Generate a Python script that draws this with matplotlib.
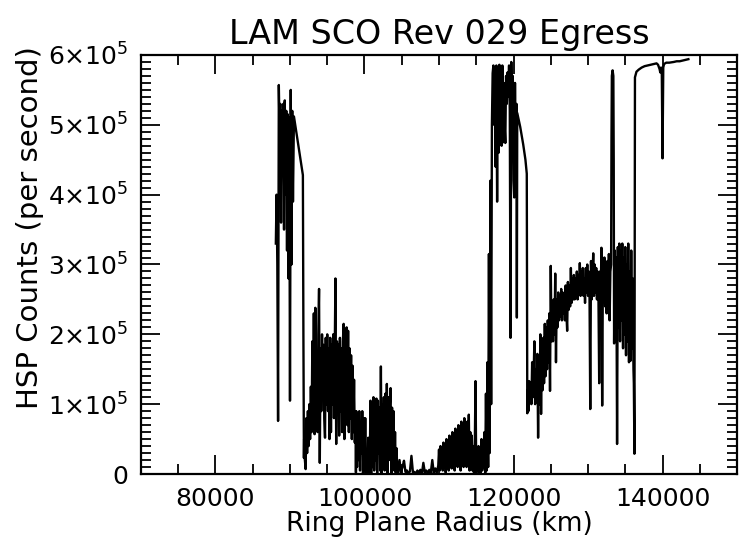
import numpy as np
import matplotlib
matplotlib.use('Agg')
import matplotlib.pyplot as plt
from matplotlib.ticker import MultipleLocator, FuncFormatter

plt.rcParams['font.family'] = ['DejaVu Sans']

# counts are stored in units of 1e5 counts per second
SCALE = 1e5

# inner C ring plateau
a_r = [88100, 88200, 88300, 88400, 88500, 88600, 88700, 88800, 88900, 89000,
       89100, 89200, 89300, 89400, 89500, 89600, 89700, 89800, 89900, 90000,
       90100, 90200, 90300, 90400, 90530, 91730, 91800, 91870]
a_c = [3.3, 4.0, 3.0, 0.76, 5.57, 4.9, 5.3, 3.6, 5.2, 4.4,
       5.3, 3.5, 5.35, 4.0, 5.2, 3.2, 5.15, 2.8, 5.1, 1.05,
       5.5, 3.0, 5.2, 3.9, 5.12, 4.28, 2.0, 0.23]

# C ring, 92000 - 98800 km
b_r = [91900, 92000, 92100, 92200, 92300, 92400, 92500, 92600, 92700, 92800,
       92900, 93000, 93100, 93200, 93300, 93400, 93500, 93600, 93700, 93800,
       93900, 94000, 94100, 94200, 94300, 94400, 94500, 94600, 94700, 94800,
       94900, 95000, 95100, 95200, 95300, 95400, 95500, 95600, 95700, 95800,
       95900, 96000, 96100, 96200, 96300, 96400, 96500, 96600, 96700, 96800,
       96900, 97000, 97100, 97200, 97300, 97400, 97500, 97600, 97700, 97800,
       97900, 98000, 98100, 98200, 98300, 98400, 98500, 98600, 98700, 98800]
b_c = [0.5, 0.2, 0.07, 0.8, 0.3, 0.9, 0.4, 1.0, 0.5, 1.25,
       0.6, 1.9, 0.8, 2.3, 0.57, 2.38, 1.0, 1.7, 0.6, 2.0,
       2.65, 0.16, 1.8, 0.9, 2.0, 1.1, 1.85, 0.8, 0.52, 1.95,
       1.0, 2.0, 0.9, 1.8, 0.5, 1.95, 0.6, 1.85, 1.0, 2.0,
       0.8, 1.7, 2.8, 0.43, 1.9, 0.9, 1.85, 0.55, 1.95, 0.9,
       1.8, 0.6, 1.9, 2.15, 0.5, 1.9, 0.8, 2.1, 0.7, 2.05,
       0.6, 1.8, 0.8, 1.7, 0.5, 1.55, 0.6, 1.35, 0.45, 0.9]

# C ring, 98850 - 104400 km
c_r = [98850, 98900, 99000, 99100, 99200, 99300, 99400, 99500, 99600, 99700,
       99800, 99900, 100000, 100100, 100200, 100300, 100400, 100500, 100600, 100700,
       100800, 100900, 101000, 101100, 101200, 101300, 101400, 101500, 101600, 101700,
       101800, 101900, 102000, 102100, 102200, 102300, 102400, 102500, 102600, 102700,
       102800, 102900, 103000, 103100, 103200, 103300, 103400, 103500, 103600, 103700,
       103800, 103900, 104000, 104100, 104200, 104300, 104400]
c_c = [0.02, 0.9, 0.1, 0.85, 0.2, 0.9, 0.05, 0.7, 0.3, 0.9,
       0.0, 0.8, 0.05, 0.8, 0.0, 0.2, 0.0, 0.52, 0.0, 0.05,
       1.05, 0.0, 1.0, 0.1, 1.1, 0.05, 0.95, 0.2, 1.08, 0.0,
       1.05, 0.3, 0.95, 0.05, 1.54, 0.0, 1.0, 0.3, 1.1, 0.05,
       1.15, 0.25, 1.29, 0.0, 1.1, 0.2, 1.0, 1.23, 0.0, 0.95,
       0.15, 0.9, 0.05, 0.6, 0.0, 0.37, 0.05]

# opaque part of the C ring
d_r = [104500, 104700, 104900, 105100, 105300, 105500, 105700, 105900, 106100, 106300,
       106500, 106700, 106900, 107100, 107300, 107500, 107700, 107900, 108100, 108300,
       108500, 108700, 108900, 109100, 109300, 109500, 109700, 109900]
d_c = [0.0, 0.2, 0.02, 0.1, 0.19, 0.03, 0.05, 0.0, 0.04, 0.26,
       0.02, 0.03, 0.0, 0.05, 0.02, 0.06, 0.0, 0.16, 0.02, 0.05,
       0.01, 0.06, 0.02, 0.2, 0.01, 0.08, 0.02, 0.12]

# 110000 - 117100 km, up to the edge
e_r = [110000, 110100, 110200, 110300, 110400, 110500, 110600, 110700, 110800, 110900,
       111000, 111100, 111200, 111300, 111400, 111500, 111600, 111700, 111800, 111900,
       112000, 112100, 112200, 112300, 112400, 112500, 112600, 112700, 112800, 112900,
       113000, 113100, 113200, 113300, 113400, 113500, 113600, 113700, 113800, 113900,
       114000, 114100, 114200, 114300, 114400, 114500, 114600, 114700, 114800, 114900,
       115000, 115100, 115200, 115300, 115400, 115500, 115600, 115700, 115800, 115900,
       116000, 116100, 116200, 116300, 116400, 116500, 116600, 116700, 116800, 116900,
       117000, 117100]
e_c = [0.35, 0.05, 0.4, 0.1, 0.3, 0.05, 0.45, 0.1, 0.35, 0.02,
       0.5, 0.1, 0.4, 0.05, 0.55, 0.1, 0.45, 0.08, 0.6, 0.1,
       0.5, 0.05, 0.65, 0.15, 0.55, 0.1, 0.7, 0.15, 0.6, 0.05,
       0.75, 0.2, 0.65, 0.1, 0.8, 0.15, 0.7, 0.1, 0.75, 0.2,
       0.85, 0.05, 0.6, 0.15, 0.55, 0.05, 0.4, 0.0, 0.35, 1.33,
       0.0, 0.3, 0.05, 0.4, 0.0, 0.25, 0.02, 0.5, 0.05, 0.45,
       0.1, 0.6, 0.0, 1.15, 0.05, 1.6, 0.1, 3.15, 0.3, 4.2,
       1.0, 5.0]

# bright region 117200 - 121850 km
f_r = [117200, 117300, 117400, 117500, 117600, 117700, 117800, 117900, 118000, 118100,
       118200, 118300, 118400, 118500, 118600, 118700, 118800, 118900, 119000, 119100,
       119200, 119300, 119400, 119500, 119600, 119700, 119800, 119900, 120000, 120100,
       120200, 120300, 120400, 120450, 120500, 120900, 121300, 121600, 121780, 121850]
f_c = [5.74, 5.85, 5.0, 5.82, 4.4, 5.85, 3.9, 5.8, 4.6, 5.86,
       4.9, 5.8, 4.7, 5.85, 4.75, 5.6, 5.0, 4.74, 5.7, 5.3,
       5.75, 5.4, 5.85, 5.2, 1.95, 5.9, 4.8, 5.7, 4.2, 3.96,
       5.6, 4.5, 5.3, 2.24, 5.17, 4.97, 4.72, 4.5, 4.3, 0.87]

# A ring, 121900 - 133100 km
g_r = [121900, 122000, 122100, 122200, 122300, 122400, 122500, 122600, 122700, 122800,
       122900, 123000, 123100, 123200, 123300, 123400, 123500, 123600, 123700, 123800,
       123900, 124000, 124100, 124200, 124300, 124400, 124500, 124600, 124700, 124800,
       124900, 125000, 125100, 125200, 125300, 125400, 125500, 125600, 125700, 125800,
       125900, 126000, 126100, 126200, 126300, 126400, 126500, 126600, 126700, 126800,
       126900, 127000, 127100, 127200, 127300, 127400, 127500, 127600, 127700, 127800,
       127900, 128000, 128100, 128200, 128300, 128400, 128500, 128600, 128700, 128800,
       128900, 129000, 129100, 129200, 129300, 129400, 129500, 129600, 129700, 129800,
       129900, 130000, 130100, 130200, 130300, 130400, 130500, 130600, 130700, 130800,
       130900, 131000, 131100, 131200, 131300, 131400, 131500, 131600, 131700, 131800,
       131900, 132000, 132100, 132200, 132300, 132400, 132500, 132600, 132700, 132800,
       132900, 133000, 133100]
g_c = [1.2, 0.9, 1.33, 1.05, 1.25, 1.0, 1.6, 1.1, 1.4, 1.9,
       1.0, 1.5, 1.05, 1.72, 0.52, 1.6, 1.0, 2.0, 0.86, 1.8,
       1.2, 1.95, 1.3, 2.15, 1.4, 2.1, 1.5, 2.2, 1.6, 2.3,
       1.19, 2.98, 1.9, 2.4, 1.9, 2.5, 2.0, 2.87, 1.6, 2.5,
       2.1, 2.6, 2.2, 2.55, 2.25, 2.65, 2.2, 2.6, 2.3, 2.55,
       2.2, 2.7, 2.3, 2.05, 2.75, 2.35, 2.7, 2.4, 2.95, 2.45,
       2.8, 2.5, 2.85, 2.5, 2.8, 2.55, 2.9, 2.5, 2.85, 2.6,
       3.02, 2.55, 2.9, 2.6, 2.95, 2.55, 2.8, 2.45, 2.95, 2.6,
       3.0, 2.55, 2.9, 2.6, 0.93, 3.05, 2.5, 2.8, 3.16, 2.55,
       3.0, 2.6, 2.95, 2.5, 2.9, 2.55, 1.3, 2.9, 2.5, 3.24,
       0.98, 2.9, 2.5, 3.1, 2.4, 3.0, 2.3, 3.05, 2.45, 3.15,
       2.2, 2.9, 3.0]

# Encke gap and outer A ring
g2_r = [133150, 133200, 133300, 133400, 133450, 133500, 133600, 133700, 133800, 133900,
        134000, 134100, 134200, 134300, 134400, 134500, 134600, 134700, 134800, 134900,
        135000, 135100, 135200, 135300, 135400, 135500, 135600, 135700, 135800, 135900,
        136000, 136100, 136150, 136230]
g2_c = [4.8, 5.7, 5.78, 5.7, 4.5, 1.87, 3.2, 2.0, 3.1, 0.43,
        3.25, 2.1, 3.3, 1.9, 3.2, 2.2, 3.3, 1.8, 3.1, 2.0,
        3.25, 1.7, 3.0, 1.9, 3.3, 1.6, 2.9, 1.62, 3.2, 1.8,
        2.8, 1.5, 1.3, 0.29]

# outside the A ring (F ring dip near 140000 km)
h_r = [136300, 136400, 136500, 136800, 137200, 137600, 138000, 138400, 138800, 139200,
       139400, 139600, 139700, 139800, 139900, 140000, 140100, 140200, 140500, 140900,
       141500, 141900, 142300, 142700, 143100, 143470]
h_c = [5.68, 5.72, 5.76, 5.79, 5.82, 5.84, 5.85, 5.86, 5.87, 5.88,
       5.86, 5.8, 5.75, 5.82, 5.78, 4.52, 5.82, 5.87, 5.89, 5.89,
       5.9, 5.91, 5.91, 5.92, 5.93, 5.94]

radius = np.concatenate([a_r, b_r, c_r, d_r, e_r, f_r, g_r, g2_r, h_r])
counts = np.concatenate([a_c, b_c, c_c, d_c, e_c, f_c, g_c, g2_c, h_c]) * SCALE

fig = plt.figure(figsize=(7.42, 5.37), dpi=100)
ax = fig.add_axes([0.190, 0.1173, 0.8033, 0.7803])

ax.plot(radius, counts, color='black', linewidth=1.7)

ax.set_xlim(70000, 150000)
ax.set_ylim(0, 6e5)

ax.xaxis.set_major_locator(MultipleLocator(20000))
ax.xaxis.set_minor_locator(MultipleLocator(5000))
ax.yaxis.set_major_locator(MultipleLocator(1e5))
ax.yaxis.set_minor_locator(MultipleLocator(1e4))


def sci_fmt(v, pos):
    if v == 0:
        return '0'
    return r'$%d{\times}10^{5}$' % round(v / 1e5)


ax.yaxis.set_major_formatter(FuncFormatter(sci_fmt))

ax.tick_params(which='both', direction='in', top=True, right=True,
               labelsize=18, pad=9)
ax.tick_params(which='major', length=14, width=1.3)
ax.tick_params(which='minor', length=7, width=1.3)
for s in ax.spines.values():
    s.set_linewidth(1.6)

ax.set_title('LAM SCO Rev 029 Egress', fontsize=24, pad=8)
ax.set_xlabel('Ring Plane Radius (km)', fontsize=19, labelpad=0)
ax.set_ylabel('HSP Counts (per second)', fontsize=21)
ax.yaxis.set_label_coords(-0.163, 0.587)

fig.savefig('out.png', dpi=100)
